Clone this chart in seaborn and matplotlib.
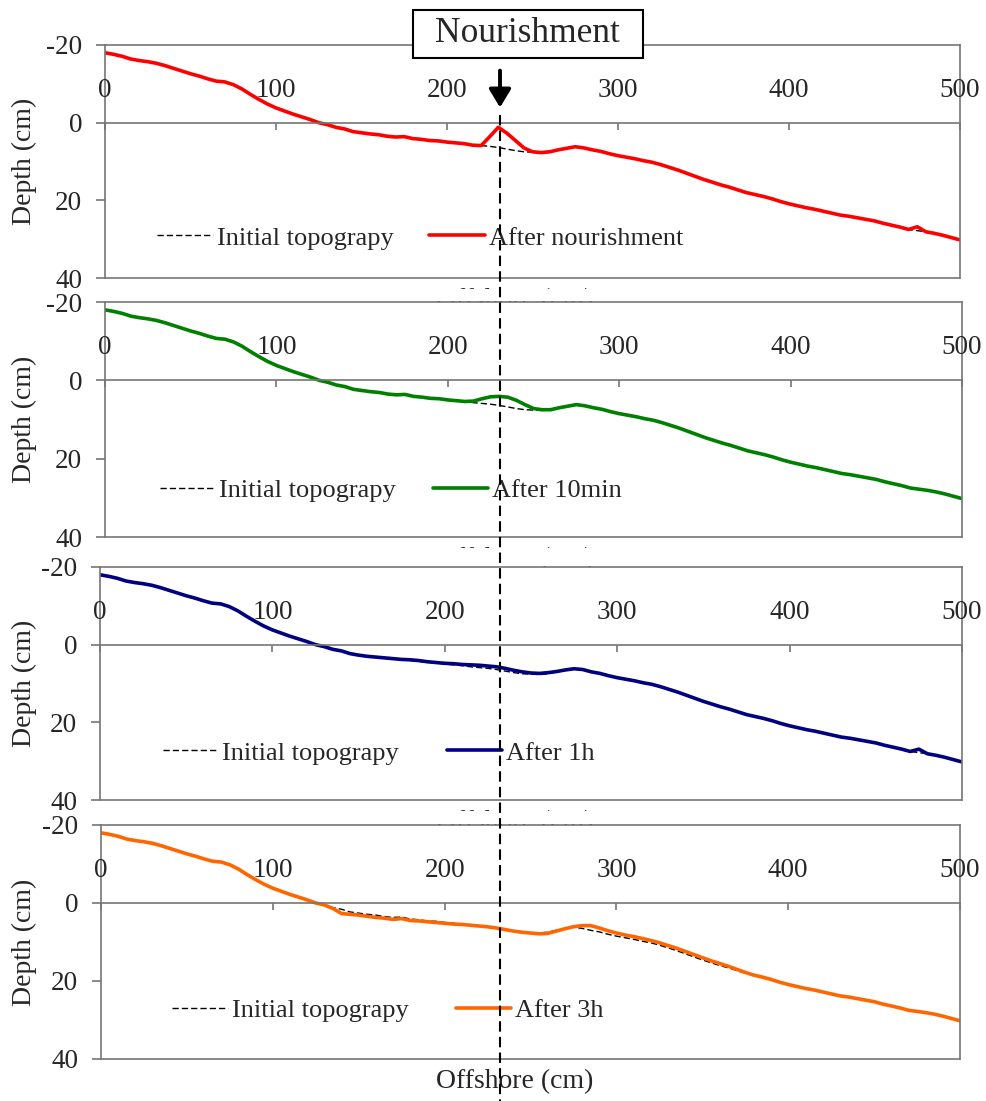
import matplotlib
matplotlib.use("Agg")
import matplotlib.pyplot as plt
import seaborn as sns
from matplotlib.patches import Rectangle
from matplotlib.lines import Line2D

# ---------------- data ----------------
offshore = list(range(0, 505, 5))  # cm

initial = [
    -18.0, -17.6, -17.1, -16.4, -16.0, -15.7, -15.3, -14.7, -14.0, -13.3,
    -12.6, -12.0, -11.3, -10.7, -10.5, -9.8, -8.7, -7.3, -6.0, -4.8,
    -3.8, -3.0, -2.2, -1.5, -0.8, 0.0, 0.5, 1.2, 1.6, 2.3,
    2.6, 2.9, 3.1, 3.5, 3.7, 3.6, 4.1, 4.3, 4.6, 4.7,
    5.0, 5.2, 5.4, 5.7, 5.9, 6.1, 6.4, 6.8, 7.2, 7.5,
    7.6, 7.7, 7.5, 7.0, 6.6, 6.2, 6.5, 7.0, 7.4, 8.0,
    8.5, 8.9, 9.3, 9.8, 10.2, 10.8, 11.5, 12.2, 13.0, 13.8,
    14.6, 15.3, 16.0, 16.6, 17.3, 18.0, 18.5, 19.0, 19.6, 20.3,
    20.9, 21.4, 21.9, 22.3, 22.8, 23.3, 23.8, 24.1, 24.5, 24.9,
    25.3, 25.9, 26.4, 26.9, 27.5, 27.8, 28.1, 28.5, 29.0, 29.6,
    30.2,
]

after_nourishment = [
    -18.0, -17.6, -17.1, -16.4, -16.0, -15.7, -15.3, -14.7, -14.0, -13.3,
    -12.6, -12.0, -11.3, -10.7, -10.5, -9.8, -8.7, -7.3, -6.0, -4.8,
    -3.8, -3.0, -2.2, -1.5, -0.8, 0.0, 0.5, 1.2, 1.6, 2.3,
    2.6, 2.9, 3.1, 3.5, 3.7, 3.6, 4.1, 4.3, 4.6, 4.7,
    5.0, 5.2, 5.4, 5.8, 5.9, 3.6, 1.2, 2.7, 4.6, 6.5,
    7.5, 7.7, 7.5, 7.0, 6.6, 6.2, 6.5, 7.0, 7.4, 8.0,
    8.5, 8.9, 9.3, 9.8, 10.2, 10.8, 11.5, 12.2, 13.0, 13.8,
    14.6, 15.3, 16.0, 16.6, 17.3, 18.0, 18.5, 19.0, 19.6, 20.3,
    20.9, 21.4, 21.9, 22.3, 22.8, 23.3, 23.8, 24.1, 24.5, 24.9,
    25.3, 25.9, 26.4, 26.9, 27.5, 26.8, 28.1, 28.5, 29.0, 29.6,
    30.2,
]

after_10min = [
    -18.0, -17.6, -17.1, -16.4, -16.0, -15.7, -15.3, -14.7, -14.0, -13.3,
    -12.6, -12.0, -11.3, -10.7, -10.5, -9.8, -8.7, -7.3, -6.0, -4.8,
    -3.8, -3.0, -2.2, -1.5, -0.8, 0.0, 0.5, 1.2, 1.6, 2.3,
    2.6, 2.9, 3.1, 3.5, 3.7, 3.6, 4.1, 4.3, 4.6, 4.7,
    5.0, 5.2, 5.4, 5.3, 4.7, 4.2, 4.1, 4.3, 5.1, 6.2,
    7.2, 7.5, 7.5, 7.0, 6.6, 6.2, 6.5, 7.0, 7.4, 8.0,
    8.5, 8.9, 9.3, 9.8, 10.2, 10.8, 11.5, 12.2, 13.0, 13.8,
    14.6, 15.3, 16.0, 16.6, 17.3, 18.0, 18.5, 19.0, 19.6, 20.3,
    20.9, 21.4, 21.9, 22.3, 22.8, 23.3, 23.8, 24.1, 24.5, 24.9,
    25.3, 25.9, 26.4, 26.9, 27.5, 27.8, 28.1, 28.5, 29.0, 29.6,
    30.2,
]

after_1h = [
    -18.0, -17.6, -17.1, -16.4, -16.0, -15.7, -15.3, -14.7, -14.0, -13.3,
    -12.6, -12.0, -11.3, -10.7, -10.5, -9.8, -8.7, -7.3, -6.0, -4.8,
    -3.8, -3.0, -2.2, -1.5, -0.8, 0.0, 0.5, 1.2, 1.6, 2.3,
    2.7, 3.0, 3.2, 3.4, 3.6, 3.8, 3.9, 4.1, 4.4, 4.6,
    4.8, 4.9, 5.1, 5.2, 5.3, 5.5, 5.7, 6.1, 6.6, 7.0,
    7.3, 7.4, 7.2, 6.9, 6.5, 6.2, 6.4, 7.0, 7.4, 8.0,
    8.5, 8.9, 9.3, 9.8, 10.2, 10.8, 11.5, 12.2, 13.0, 13.8,
    14.6, 15.3, 16.0, 16.6, 17.3, 18.0, 18.5, 19.0, 19.6, 20.3,
    20.9, 21.4, 21.9, 22.3, 22.8, 23.3, 23.8, 24.1, 24.5, 24.9,
    25.3, 25.9, 26.4, 26.9, 27.5, 26.9, 28.1, 28.5, 29.0, 29.6,
    30.2,
]

after_3h = [
    -18.0, -17.6, -17.1, -16.4, -16.0, -15.7, -15.3, -14.7, -14.0, -13.3,
    -12.6, -12.0, -11.3, -10.7, -10.5, -9.8, -8.7, -7.3, -6.0, -4.8,
    -3.8, -3.0, -2.2, -1.5, -0.8, 0.0, 0.5, 1.4, 2.7, 2.9,
    3.1, 3.4, 3.7, 3.9, 4.2, 4.0, 4.5, 4.6, 4.8, 5.0,
    5.2, 5.4, 5.5, 5.7, 5.9, 6.1, 6.4, 6.8, 7.2, 7.5,
    7.7, 7.9, 7.8, 7.2, 6.6, 6.1, 5.8, 5.8, 6.4, 7.1,
    7.7, 8.2, 8.6, 9.1, 9.6, 10.2, 10.9, 11.6, 12.4, 13.2,
    14.0, 14.8, 15.5, 16.2, 17.0, 17.8, 18.5, 19.0, 19.6, 20.3,
    20.9, 21.4, 21.9, 22.3, 22.8, 23.3, 23.8, 24.1, 24.5, 24.9,
    25.3, 25.9, 26.4, 26.9, 27.5, 27.8, 28.1, 28.5, 29.0, 29.6,
    30.2,
]

series_labels = ["After nourishment", "After 10min", "After 1h", "After 3h"]
series_colors = ["#FF0000", "#008000", "#000080", "#FF6600"]
initial_label = "Initial topograpy"
x_ticks = [0, 100, 200, 300, 400, 500]
y_ticks = [-20, 0, 20, 40]
y_tick_labels = ["-20", "0", "20", "40"]
nourishment_x = 231

# ---------------- style ----------------
sns.set_style("white")
plt.rcParams["font.family"] = ["Liberation Serif", "DejaVu Serif"]
plt.rcParams["axes.unicode_minus"] = False

W, H = 986, 1101
fig = plt.figure(figsize=(W / 100, H / 100), dpi=100)


def fbox(l, t, r, b):
    return [l / W, 1 - b / H, (r - l) / W, (b - t) / H]


# panel pixel boxes (left, top, right, bottom)
boxes = [(105, 45, 960, 278), (105, 302, 962, 537), (100, 567, 962, 800), (101, 825, 960, 1059)]
legend_anchor = [(0.061, 0.172), (0.064, 0.20), (0.073, 0.202), (0.083, 0.209)]
legend_colspace = [1.36, 1.4, 1.8, 1.8]
series_list = [after_nourishment, after_10min, after_1h, after_3h]

spine_col = "#767676"
axes = []
for i, (box, ser) in enumerate(zip(boxes, series_list)):
    ax = fig.add_axes(fbox(*box))
    axes.append(ax)
    sns.lineplot(x=offshore, y=initial, ax=ax, color="black", linewidth=1.0,
                 linestyle=(0, (4.5, 2.2)), label=initial_label)
    sns.lineplot(x=offshore, y=ser, ax=ax, color=series_colors[i], linewidth=2.6,
                 label=series_labels[i])
    ax.set_xlim(0, 500)
    ax.set_ylim(40, -20)

    for s in ax.spines.values():
        s.set_color(spine_col)
        s.set_linewidth(1.2)
        s.set_visible(True)
    ax.spines["bottom"].set_position(("data", 0))
    ax.axhline(40, color=spine_col, lw=1.2, clip_on=False)

    ax.set_yticks(y_ticks)
    ax.set_yticklabels(y_tick_labels)
    ax.tick_params(axis="y", left=True, direction="out", length=6.5, width=1.2,
                   color=spine_col, pad=10, labelsize=19.5)
    ax.set_xticks(x_ticks)
    ax.tick_params(axis="x", bottom=True, direction="out", length=5, width=1.2,
                   color=spine_col, labelbottom=False)
    for v in x_ticks:
        ax.text(v, -8.4, str(v), ha="center", va="center", fontsize=19.5)

    l, t, r, b = box
    ax.set_ylabel("Depth (cm)", fontsize=20)
    ax.yaxis.set_label_coords(-(l - 37) / (r - l), 0.5)
    ax.set_xlabel("Offshore (cm)", fontsize=20)
    ax.xaxis.set_label_coords((515 - l) / (r - l), -10 / (b - t))

    ax.legend(loc="center left", bbox_to_anchor=legend_anchor[i], frameon=False, ncol=2,
              fontsize=19, handlelength=2.1, handletextpad=0.15,
              columnspacing=legend_colspace[i], borderpad=0, borderaxespad=0)

# cover the offshore labels of the upper panels (only their tops remain visible)
for i in range(3):
    bot = boxes[i][3]
    nxt = boxes[i + 1][1] - 1.5
    fig.add_artist(Rectangle((380 / W, 1 - nxt / H), (680 - 380) / W, (nxt - (bot + 11)) / H,
                             transform=fig.transFigure, facecolor="white", edgecolor="none",
                             zorder=1))

# vertical nourishment line across all panels
xpx = axes[0].transData.transform((nourishment_x, 0))[0]
fig.add_artist(Line2D([xpx / W, xpx / W], [1 - 115 / H, 0], transform=fig.transFigure,
                      color="black", lw=1.5, linestyle=(0, (5, 2.5)), zorder=5))

# arrow
axes[0].annotate("", xy=(nourishment_x, -3.9), xytext=(nourishment_x, -13.4),
                 arrowprops=dict(arrowstyle="-|>,head_length=0.5,head_width=0.3",
                                 lw=2.8, color="black", mutation_scale=22,
                                 shrinkA=0, shrinkB=0), zorder=6)

# Nourishment label box
fig.add_artist(Rectangle((413 / W, 1 - 58 / H), 230 / W, 48 / H, transform=fig.transFigure,
                         facecolor="white", edgecolor="black", lw=1.5, zorder=4))
fig.text(527 / W, 1 - 34 / H, "Nourishment", ha="center", va="center", fontsize=25.5, zorder=6)

fig.savefig("out.png", dpi=100)
